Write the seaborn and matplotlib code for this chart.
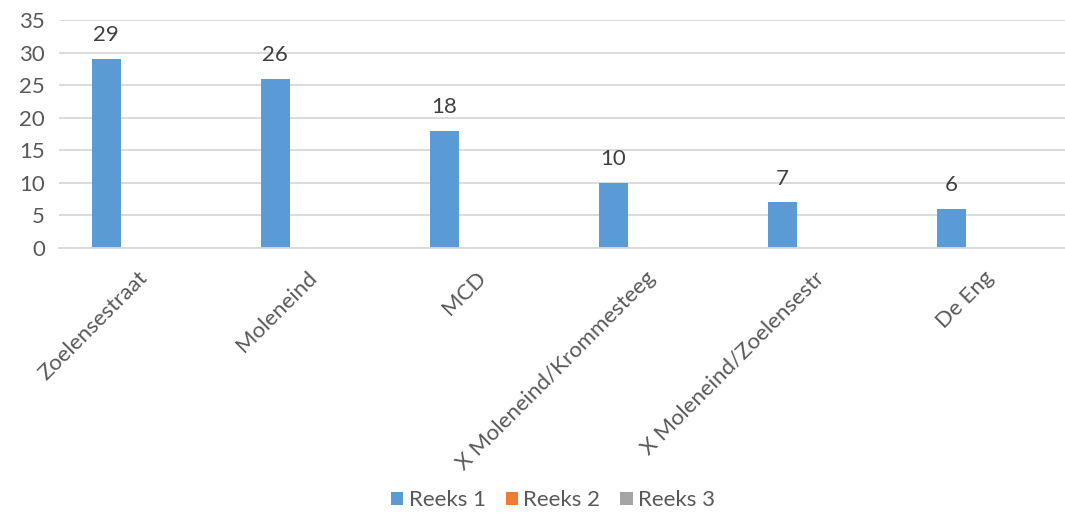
import matplotlib
matplotlib.use("Agg")
import matplotlib.pyplot as plt
import matplotlib.transforms as mtransforms
import seaborn as sns
import pandas as pd

categories = ["Zoelensestraat", "Moleneind", "MCD", "X Moleneind/Krommesteeg",
              "X Moleneind/Zoelensestr", "De Eng"]
reeks1 = [29, 26, 18, 10, 7, 6]
reeks2 = [0, 0, 0, 0, 0, 0]
reeks3 = [0, 0, 0, 0, 0, 0]
series_names = ["Reeks 1", "Reeks 2", "Reeks 3"]
colors = ["#5B9BD5", "#ED7D31", "#A5A5A5"]
yticks = [0, 5, 10, 15, 20, 25, 30, 35]

sns.set_theme(style="white")
plt.rcParams["font.family"] = ["Lato", "DejaVu Sans"]

rows = []
for name, vals in zip(series_names, [reeks1, reeks2, reeks3]):
    for c, v in zip(categories, vals):
        rows.append({"cat": c, "series": name, "value": v})
df = pd.DataFrame(rows)

fig = plt.figure(figsize=(10.65, 5.24), dpi=100)
ax = fig.add_axes([59/1065, (524-248)/524, 1 - 59/1065, (248-20)/524])

sns.barplot(data=df, x="cat", y="value", hue="series", palette=colors,
            width=0.665, gap=0.227, ax=ax, saturation=1, legend=True,
            edgecolor="none", linewidth=0)

ax.set_xlim(-0.5, 5.45)
ax.set_ylim(0, 35)
ax.set_yticks(yticks)
ax.yaxis.grid(True, color="#D9D9D9", linewidth=1.3)
ax.set_axisbelow(True)
for s in ["top", "right", "left"]:
    ax.spines[s].set_visible(False)
ax.spines["bottom"].set_color("#D9D9D9")
ax.spines["bottom"].set_linewidth(1.3)
ax.set_xlabel("")
ax.set_ylabel("")
fs = 16
ax.tick_params(axis="both", length=0, labelsize=fs, labelcolor="#595959")
ax.tick_params(axis="y", pad=10)
plt.setp(ax.get_xticklabels(), rotation=45, ha="right", rotation_mode="anchor")
for lbl in ax.get_xticklabels():
    lbl.set_transform(lbl.get_transform() +
                      mtransforms.ScaledTranslation(-6/100, -15/100, fig.dpi_scale_trans))

cont = ax.containers[0]
ax.bar_label(cont, labels=[str(v) for v in reeks1], padding=10, fontsize=fs, color="#404040")

handles, labels = ax.get_legend_handles_labels()
ax.legend(handles, labels, loc="lower center", ncol=3, frameon=False, fontsize=fs,
          handlelength=0.55, handleheight=0.55, handletextpad=0.25, columnspacing=0.9,
          labelcolor="#595959")
leg = ax.get_legend()
leg.set_bbox_to_anchor((553/1065, -0.012), transform=fig.transFigure)

fig.savefig("out.png", dpi=100)
